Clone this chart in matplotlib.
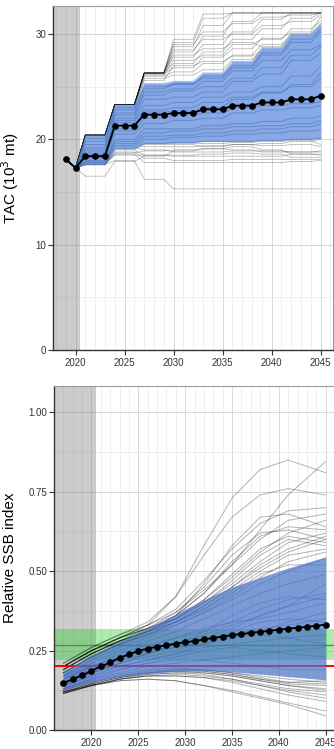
import numpy as np
import matplotlib
matplotlib.use('Agg')
import matplotlib.pyplot as plt
from matplotlib.ticker import MultipleLocator

plt.rcParams['font.family'] = ['Liberation Sans', 'DejaVu Sans']

# ---------------- Datos TAC (10^3 mt) ----------------
anios_tac = np.arange(2019, 2046)
tac_inicio = [18.1, 17.3]  # 2019 y 2020
# el TAC se fija cada 3 años: 2021, 2024, ..., 2042 y el último en 2045
anios_bloque = [2021, 2024, 2027, 2030, 2033, 2036, 2039, 2042, 2045]
tac_mediana = [18.4, 21.3, 22.35, 22.5, 22.85, 23.2, 23.5, 23.8, 24.15]
tac_banda_sup = [20.4, 23.3, 25.3, 25.5, 26.3, 27.4, 28.7, 30.0, 30.9]
tac_banda_inf = [17.6, 19.1, 19.6, 19.7, 19.8, 19.8, 19.9, 20.0, 20.1]

tac_grises = [
    [20.4, 23.3, 26.3, 29.5, 31.9, 32.0, 32.0, 32.0, 32.0],
    [20.4, 23.3, 26.3, 29.2, 31.5, 32.0, 32.0, 32.0, 32.0],
    [20.4, 23.3, 26.3, 28.8, 30.8, 32.0, 32.0, 32.0, 32.0],
    [20.4, 23.3, 26.3, 28.3, 29.8, 31.2, 32.0, 32.0, 32.0],
    [20.4, 23.3, 26.3, 27.8, 29.0, 30.2, 31.4, 32.0, 32.0],
    [20.4, 23.3, 26.3, 27.2, 28.3, 29.5, 30.5, 31.5, 32.0],
    [20.4, 23.3, 26.2, 26.8, 27.8, 28.6, 29.6, 30.2, 31.6],
    [20.4, 23.3, 26.0, 26.4, 27.2, 28.0, 29.0, 30.0, 31.0],
    [20.4, 23.2, 25.8, 26.1, 26.6, 27.6, 28.3, 29.2, 30.4],
    [20.4, 23.3, 26.3, 29.0, 30.2, 31.0, 31.6, 31.8, 32.0],
    [20.4, 23.3, 26.3, 28.0, 28.6, 29.2, 28.8, 29.8, 30.8],
    [20.3, 23.1, 25.6, 27.0, 27.4, 27.9, 28.4, 28.6, 29.0],
    [20.4, 23.3, 26.3, 28.5, 29.5, 30.0, 30.8, 31.2, 31.8],
    [20.4, 23.3, 26.1, 27.5, 28.0, 29.0, 29.5, 30.5, 31.2],
    [16.5, 17.9, 18.4, 18.9, 19.1, 19.3, 19.0, 18.6, 18.5],
    [17.6, 18.0, 16.2, 15.3, 15.3, 15.3, 15.3, 15.3, 15.3],
    [17.6, 18.6, 17.8, 17.8, 17.8, 17.8, 17.8, 17.9, 18.0],
    [17.6, 18.8, 18.2, 18.0, 18.0, 18.1, 18.1, 18.1, 18.1],
    [17.6, 19.0, 18.5, 18.4, 18.4, 18.4, 18.4, 18.6, 18.6],
    [17.8, 19.2, 19.0, 18.8, 18.8, 18.9, 18.9, 18.8, 18.9],
    [17.7, 19.3, 19.3, 19.3, 19.4, 19.5, 19.4, 19.5, 19.3],
    [17.9, 19.3, 19.6, 19.6, 19.6, 19.7, 19.8, 19.9, 19.5],
    [18.0, 19.2, 19.5, 19.5, 19.3, 19.5, 19.6, 19.8, 20.0],
    [17.6, 18.7, 18.9, 19.0, 19.1, 19.0, 18.8, 18.8, 18.8],
    [17.7, 18.5, 18.5, 18.5, 18.6, 18.7, 18.6, 18.3, 18.3],
]

tac_azules = [
    [18.4, 21.3, 22.3, 22.5, 22.8, 23.2, 23.5, 23.8, 24.1],
    [20.4, 23.3, 25.3, 25.5, 26.3, 27.4, 28.7, 30.0, 30.9],
    [17.6, 19.1, 19.6, 19.7, 19.8, 19.8, 19.9, 20.0, 20.1],
    [19.5, 22.5, 24.5, 24.8, 25.5, 26.5, 27.5, 28.5, 29.0],
    [19.0, 22.0, 23.8, 24.0, 24.5, 25.5, 26.2, 27.5, 28.2],
    [18.8, 21.8, 23.2, 23.5, 24.0, 24.5, 25.0, 26.0, 27.0],
    [18.2, 20.5, 21.5, 21.8, 22.0, 22.5, 22.8, 23.0, 23.2],
    [18.0, 20.0, 21.0, 21.0, 21.3, 21.5, 21.7, 22.0, 22.2],
    [17.8, 19.6, 20.3, 20.4, 20.6, 20.8, 21.0, 21.2, 21.5],
    [19.8, 22.8, 24.8, 25.3, 25.8, 26.8, 28.0, 29.2, 30.2],
    [18.6, 21.6, 22.8, 23.0, 23.5, 24.0, 24.5, 25.0, 25.8],
    [18.3, 20.8, 22.0, 22.3, 22.5, 23.0, 23.2, 23.4, 23.6],
    [17.9, 19.8, 20.6, 20.8, 21.0, 21.2, 21.3, 21.5, 21.8],
    [19.2, 22.3, 24.2, 24.6, 25.0, 25.8, 26.8, 28.0, 28.8],
    [18.5, 21.0, 22.6, 22.7, 23.0, 23.8, 24.4, 25.2, 26.3],
    [17.7, 19.4, 20.0, 20.2, 20.3, 20.5, 20.6, 20.8, 20.9],
    [20.1, 23.0, 25.0, 25.2, 26.0, 27.0, 28.2, 29.5, 30.5],
]

# ---------------- Datos SSB relativa ----------------
anios_ssb = np.arange(2017, 2046)
ssb_mediana = [0.147, 0.160, 0.172, 0.186, 0.200, 0.213, 0.227, 0.238, 0.249,
               0.256, 0.262, 0.267, 0.272, 0.276, 0.280, 0.285, 0.290, 0.294,
               0.299, 0.302, 0.306, 0.309, 0.312, 0.316, 0.319, 0.322, 0.325,
               0.328, 0.332]
nudos_ssb = [2017, 2020, 2023, 2026, 2029, 2032, 2035, 2038, 2041, 2045]
ssb_banda_sup = [0.185, 0.235, 0.28, 0.32, 0.365, 0.41, 0.45, 0.48, 0.51, 0.545]
ssb_banda_inf = [0.128, 0.15, 0.168, 0.178, 0.185, 0.187, 0.183, 0.176, 0.168, 0.158]

ssb_grises = [
    [0.20, 0.25, 0.29, 0.33, 0.42, 0.58, 0.73, 0.82, 0.85, 0.81],
    [0.19, 0.24, 0.28, 0.31, 0.36, 0.43, 0.52, 0.63, 0.74, 0.845],
    [0.21, 0.26, 0.30, 0.34, 0.42, 0.55, 0.67, 0.74, 0.76, 0.74],
    [0.20, 0.25, 0.29, 0.33, 0.38, 0.47, 0.57, 0.65, 0.69, 0.70],
    [0.19, 0.24, 0.28, 0.32, 0.37, 0.44, 0.52, 0.60, 0.66, 0.68],
    [0.18, 0.23, 0.27, 0.31, 0.35, 0.41, 0.48, 0.56, 0.62, 0.66],
    [0.20, 0.25, 0.29, 0.32, 0.36, 0.43, 0.53, 0.61, 0.64, 0.63],
    [0.19, 0.24, 0.28, 0.31, 0.35, 0.40, 0.46, 0.53, 0.59, 0.62],
    [0.21, 0.26, 0.30, 0.33, 0.37, 0.45, 0.55, 0.62, 0.63, 0.60],
    [0.18, 0.23, 0.27, 0.30, 0.34, 0.39, 0.45, 0.51, 0.56, 0.60],
    [0.20, 0.25, 0.29, 0.32, 0.35, 0.40, 0.47, 0.55, 0.60, 0.58],
    [0.19, 0.24, 0.28, 0.31, 0.34, 0.38, 0.44, 0.50, 0.55, 0.57],
    [0.18, 0.23, 0.27, 0.30, 0.33, 0.37, 0.42, 0.48, 0.53, 0.56],
    [0.20, 0.25, 0.29, 0.32, 0.35, 0.41, 0.49, 0.57, 0.61, 0.59],
    [0.19, 0.24, 0.28, 0.31, 0.36, 0.46, 0.58, 0.67, 0.68, 0.64],
    [0.17, 0.22, 0.26, 0.29, 0.33, 0.37, 0.41, 0.46, 0.50, 0.54],
    [0.18, 0.23, 0.27, 0.30, 0.34, 0.38, 0.43, 0.49, 0.52, 0.52],
    [0.20, 0.25, 0.28, 0.31, 0.34, 0.39, 0.45, 0.52, 0.57, 0.61],
    [0.115, 0.14, 0.16, 0.17, 0.17, 0.165, 0.15, 0.13, 0.11, 0.09],
    [0.12, 0.14, 0.155, 0.16, 0.155, 0.14, 0.12, 0.10, 0.08, 0.045],
    [0.115, 0.14, 0.16, 0.17, 0.175, 0.17, 0.16, 0.145, 0.13, 0.12],
    [0.12, 0.145, 0.165, 0.18, 0.185, 0.18, 0.17, 0.155, 0.14, 0.13],
    [0.125, 0.15, 0.17, 0.18, 0.185, 0.185, 0.175, 0.16, 0.145, 0.14],
    [0.115, 0.14, 0.16, 0.17, 0.17, 0.165, 0.155, 0.14, 0.125, 0.11],
    [0.12, 0.145, 0.165, 0.175, 0.18, 0.175, 0.16, 0.14, 0.12, 0.10],
    [0.12, 0.14, 0.155, 0.16, 0.155, 0.14, 0.125, 0.105, 0.085, 0.06],
    [0.13, 0.155, 0.175, 0.19, 0.195, 0.19, 0.18, 0.165, 0.15, 0.145],
    [0.125, 0.15, 0.17, 0.185, 0.19, 0.185, 0.175, 0.16, 0.15, 0.155],
    [0.115, 0.14, 0.16, 0.175, 0.18, 0.18, 0.17, 0.155, 0.14, 0.125],
    [0.12, 0.145, 0.165, 0.18, 0.19, 0.19, 0.18, 0.17, 0.16, 0.15],
]

ssb_azules = [
    [0.15, 0.18, 0.21, 0.24, 0.27, 0.30, 0.33, 0.36, 0.39, 0.42],
    [0.16, 0.20, 0.24, 0.27, 0.29, 0.31, 0.34, 0.38, 0.41, 0.43],
    [0.14, 0.17, 0.20, 0.22, 0.24, 0.26, 0.27, 0.28, 0.29, 0.30],
    [0.17, 0.21, 0.25, 0.28, 0.31, 0.35, 0.39, 0.43, 0.46, 0.49],
    [0.13, 0.16, 0.18, 0.20, 0.21, 0.22, 0.23, 0.24, 0.25, 0.26],
    [0.15, 0.19, 0.22, 0.25, 0.26, 0.27, 0.29, 0.31, 0.34, 0.37],
    [0.16, 0.19, 0.22, 0.24, 0.27, 0.31, 0.36, 0.40, 0.42, 0.41],
    [0.14, 0.17, 0.19, 0.21, 0.23, 0.25, 0.26, 0.25, 0.24, 0.23],
    [0.15, 0.18, 0.21, 0.23, 0.25, 0.28, 0.31, 0.34, 0.35, 0.34],
    [0.13, 0.16, 0.19, 0.21, 0.22, 0.22, 0.21, 0.20, 0.19, 0.19],
    [0.17, 0.20, 0.23, 0.26, 0.29, 0.32, 0.34, 0.35, 0.37, 0.40],
    [0.14, 0.18, 0.21, 0.24, 0.26, 0.28, 0.30, 0.32, 0.33, 0.35],
    [0.16, 0.20, 0.23, 0.25, 0.27, 0.29, 0.32, 0.36, 0.39, 0.46],
    [0.15, 0.18, 0.20, 0.22, 0.24, 0.27, 0.30, 0.30, 0.29, 0.27],
]

ssb_limite = 0.2      # linea roja
ssb_objetivo = 0.268  # linea verde
ssb_rango_obj = (0.22, 0.318)


def serie_tac(bloques):
    # cada valor se mantiene 3 años, el último bloque solo cubre 2045
    vals = list(tac_inicio)
    for i, v in enumerate(bloques):
        n = 3 if i < len(bloques) - 1 else 1
        vals += [v] * n
    return np.array(vals)


def estilo(ax):
    ax.xaxis.set_major_locator(MultipleLocator(5))
    ax.xaxis.set_minor_locator(MultipleLocator(1))
    ax.set_axisbelow(True)
    ax.grid(which='major', color='#d2d2d2', lw=0.6)
    ax.grid(which='minor', color='#e9e9e9', lw=0.5)
    ax.tick_params(which='minor', length=0)
    ax.tick_params(which='major', length=3.5, width=0.8, color='#333333',
                   labelsize=7, labelcolor='#333333')
    ax.tick_params(axis='x', pad=2.5)
    ax.tick_params(axis='y', pad=1.5)
    for lado in ['left', 'bottom']:
        ax.spines[lado].set_color('#333333')
        ax.spines[lado].set_linewidth(1.0)
    for lado in ['top', 'right']:
        ax.spines[lado].set_color('#9a9a9a')
        ax.spines[lado].set_linewidth(0.8)


fig = plt.figure(figsize=(3.34, 7.49), dpi=100)

# ---------------- Panel superior: TAC ----------------
ax1 = fig.add_axes([53 / 334, (749 - 350) / 749, 280.4 / 334, 344 / 749])
estilo(ax1)
ax1.set_xlim(2017.7, 2046.3)
ax1.set_ylim(0, 32.66)
ax1.yaxis.set_major_locator(MultipleLocator(10))
ax1.yaxis.set_minor_locator(MultipleLocator(5))
ax1.axvspan(2017.7, 2020.5, color='#808080', alpha=0.4, lw=0, zorder=0.6)

for t in tac_grises:
    ax1.plot(anios_tac, serie_tac(t), color='black', alpha=0.28, lw=0.6, zorder=2)
ax1.fill_between(anios_tac, serie_tac(tac_banda_inf), serie_tac(tac_banda_sup),
                 color='#80a4e4', alpha=0.94, lw=0, zorder=3)
for t in tac_azules:
    ax1.plot(anios_tac, serie_tac(t), color='#2f5aa8', alpha=0.35, lw=0.8, zorder=3.1)
ax1.plot(anios_tac, serie_tac(tac_mediana), color='black', lw=1.3, marker='o',
         markersize=3.8, zorder=4)
ax1.set_ylabel('TAC (10$^3$ mt)', fontsize=11)
ax1.yaxis.set_label_coords(-0.114, 0.5)

# ---------------- Panel inferior: SSB relativa ----------------
ax2 = fig.add_axes([54 / 334, 19 / 749, 281 / 334, 344 / 749])
estilo(ax2)
ax2.set_xlim(2016, 2046)
ax2.set_ylim(0, 1.083)
ax2.yaxis.set_major_locator(MultipleLocator(0.25))
ax2.yaxis.set_minor_locator(MultipleLocator(0.125))
ax2.yaxis.set_major_formatter(plt.FormatStrFormatter('%.2f'))
ax2.axvspan(2016, 2020.5, color='#808080', alpha=0.4, lw=0, zorder=0.6)
ax2.axhspan(ssb_rango_obj[0], ssb_rango_obj[1], color='#33cc33', alpha=0.4, lw=0, zorder=1)
ax2.axhline(ssb_objetivo, color='#2ea52e', lw=1.0, zorder=1.1)

for s in ssb_grises:
    ax2.plot(nudos_ssb, s, color='black', alpha=0.3, lw=0.7, zorder=2)
ax2.axhline(ssb_limite, color='red', lw=1.4, zorder=2.5)
ax2.fill_between(nudos_ssb, ssb_banda_inf, ssb_banda_sup,
                 color='#4a74c6', alpha=0.72, lw=0, zorder=3)
for s in ssb_azules:
    ax2.plot(nudos_ssb, s, color='#2f5aa8', alpha=0.3, lw=0.7, zorder=3.1)
ax2.plot(anios_ssb, ssb_mediana, color='black', lw=1.3, marker='o',
         markersize=3.8, zorder=4)
ax2.set_ylabel('Relative SSB index', fontsize=11)
ax2.yaxis.set_label_coords(-0.132, 0.5)

plt.savefig('out.png', dpi=100)
